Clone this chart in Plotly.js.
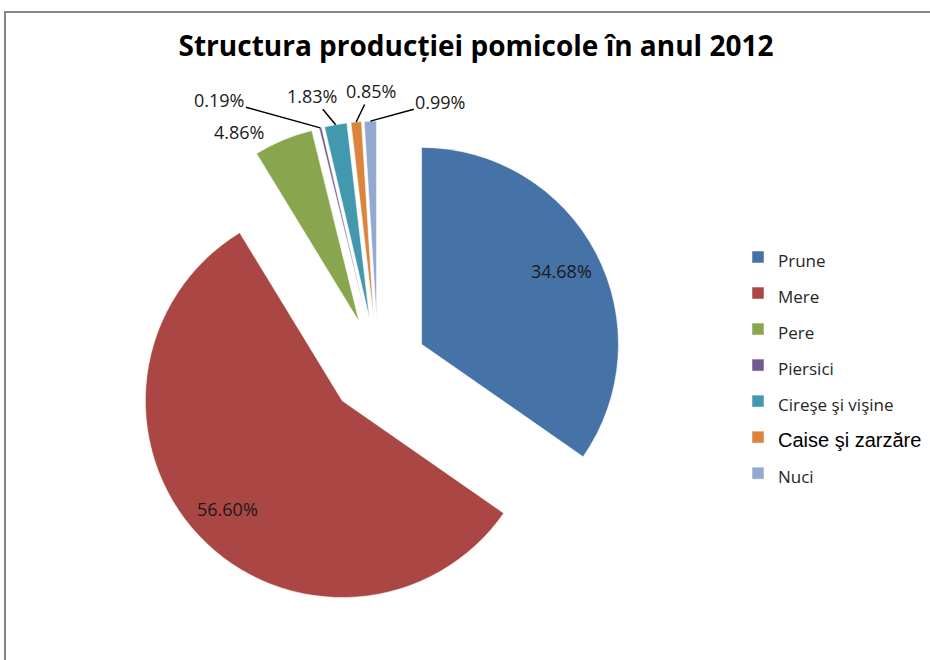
<!DOCTYPE html>
<html><head><meta charset="utf-8">
<script src="https://cdn.plot.ly/plotly-3.0.1.min.js"></script>
<style>html,body{margin:0;padding:0;background:#fff}</style>
</head><body><div id="chart" style="width:930px;height:660px"></div>
<script>
const categories = ['Prune', 'Mere', 'Pere', 'Piersici', 'Cireşe şi vişine', 'Caise şi zarzăre', 'Nuci'];
const shares = [34.68, 56.60, 4.86, 0.19, 1.83, 0.85, 0.99];
const chartTitle = 'Structura producției pomicole în anul 2012';

const colors = ['#4572A7', '#AA4643', '#89A54E', '#71588F', '#4198AF', '#DB843D', '#93A9CF'];
const legendLabels = categories.map((c, i) => i === 5
  ? '<span style="font-size:20px;font-family:Liberation Sans;fill:#000">' + c + '</span>'
  : '<span style="font-size:17px">' + c + '</span>');

// geometry (pixels), mirrors Plotly's pie sizing
const W = 930, H = 660;
const PULL = 0.25;
const boxL = 132, boxR = 624, boxT = 121, boxB = 613;
const cx = (boxL + boxR) / 2, cy = (boxT + boxB) / 2;
const R = Math.min(boxR - boxL, boxB - boxT) / (2 + 2 * PULL);

const trace = {
  type: 'pie',
  labels: legendLabels,
  values: shares,
  sort: false,
  direction: 'clockwise',
  rotation: 0,
  pull: shares.map(() => PULL),
  marker: {colors: colors, line: {color: '#ffffff', width: 0.5}},
  textinfo: 'none',
  domain: {x: [boxL / W, boxR / W], y: [1 - boxB / H, 1 - boxT / H]},
  hoverinfo: 'skip'
};

// label placement per slice (offsets only; angles come from the data)
const total = shares.reduce((a, b) => a + b, 0);
const labelStyle = [
  {inside: true, k: 0.8},
  {inside: true, k: 0.8},
  {arrow: false, dx: -44, dy: -8},
  {arrow: true, ax: -101, ay: -28},
  {arrow: true, ax: -24, ay: -29},
  {arrow: true, ax: 15, ay: -31},
  {arrow: true, ax: 70, ay: -19}
];
const annFont = {family: 'Open Sans', size: 18, color: '#1a1a1a'};
const annotations = [];
let cum = 0;
shares.forEach((v, i) => {
  const mid = (cum + v / 2) / total * 2 * Math.PI;
  cum += v;
  const s = Math.sin(mid), c = Math.cos(mid);
  const st = labelStyle[i];
  const txt = v.toFixed(2) + '%';
  if (st.inside) {
    const d = PULL * R + st.k * R;
    annotations.push({xref: 'paper', yref: 'paper', x: (cx + d * s) / W, y: 1 - (cy - d * c) / H,
      text: txt, showarrow: false, font: annFont, xanchor: 'center', yanchor: 'middle'});
  } else {
    const d = R * (1 + PULL);
    const tx = cx + d * s, ty = cy - d * c;
    if (st.arrow) {
      annotations.push({xref: 'paper', yref: 'paper', x: tx / W, y: 1 - ty / H,
        text: txt, showarrow: true, arrowhead: 0, arrowwidth: 1.5, arrowcolor: '#000000',
        ax: st.ax, ay: st.ay, standoff: 0, font: annFont});
    } else {
      annotations.push({xref: 'paper', yref: 'paper', x: (tx + st.dx) / W, y: 1 - (ty + st.dy) / H,
        text: txt, showarrow: false, font: annFont, xanchor: 'center', yanchor: 'middle'});
    }
  }
});

const layout = {
  width: W, height: H,
  margin: {l: 0, r: 0, t: 0, b: 0},
  paper_bgcolor: '#ffffff',
  title: {text: '<b>' + chartTitle + '</b>', x: 476 / W, xanchor: 'center', y: 1 - 46 / H, yanchor: 'middle',
          font: {family: 'Open Sans', size: 28, color: '#000000'}},
  showlegend: true,
  legend: {x: 738 / W, xanchor: 'left', y: 1 - 234 / H, yanchor: 'top',
           font: {family: 'Open Sans', size: 25.4, color: '#262626'}, bgcolor: 'rgba(0,0,0,0)', traceorder: 'normal'},
  annotations: annotations,
  shapes: [{type: 'rect', xref: 'paper', yref: 'paper', x0: 5 / W, x1: 1.05, y0: -0.05, y1: 1 - 12 / H,
            line: {color: '#868686', width: 2}, fillcolor: 'rgba(0,0,0,0)'}]
};

Plotly.newPlot('chart', [trace], layout, {displayModeBar: false, staticPlot: true});
</script></body></html>
